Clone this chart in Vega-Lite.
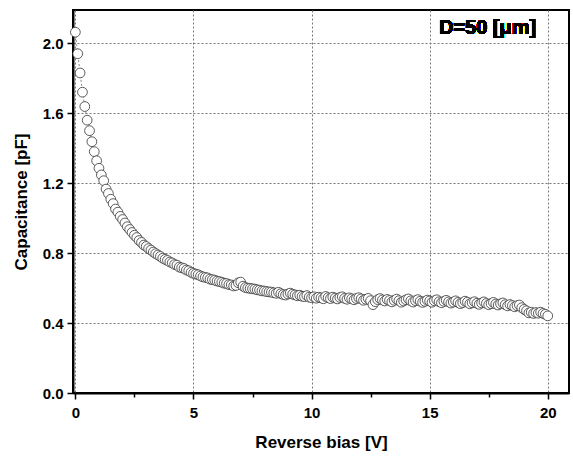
{
  "$schema": "https://vega.github.io/schema/vega-lite/v6.json",
  "autosize": "none",
  "width": 496,
  "height": 383,
  "padding": {"left": 73, "top": 10, "right": 4, "bottom": 67},
  "background": "white",
  "config": {
    "font": "Liberation Sans",
    "view": {"stroke": "black", "strokeWidth": 2},
    "axis": {
      "domainColor": "black", "domainWidth": 2, "tickColor": "black", "tickWidth": 1.5,
      "labelFont": "Liberation Sans", "labelFontWeight": "bold", "labelFontSize": 15, "labelColor": "black",
      "titleFont": "Liberation Sans", "titleFontWeight": "bold", "titleFontSize": 17, "titleColor": "black"
    }
  },
  "data": {"values": [
    {"V":0.0,"C":2.063},{"V":0.1,"C":1.940},{"V":0.2,"C":1.830},{"V":0.3,"C":1.720},{"V":0.4,"C":1.638},
    {"V":0.5,"C":1.560},{"V":0.6,"C":1.500},{"V":0.7,"C":1.437},{"V":0.8,"C":1.380},{"V":0.9,"C":1.328},
    {"V":1.0,"C":1.285},{"V":1.1,"C":1.247},{"V":1.2,"C":1.214},{"V":1.3,"C":1.166},{"V":1.4,"C":1.141},
    {"V":1.5,"C":1.108},{"V":1.6,"C":1.083},{"V":1.7,"C":1.052},{"V":1.8,"C":1.034},{"V":1.9,"C":1.010},
    {"V":2.0,"C":0.992},{"V":2.1,"C":0.972},{"V":2.2,"C":0.951},{"V":2.3,"C":0.935},{"V":2.4,"C":0.918},
    {"V":2.5,"C":0.902},{"V":2.6,"C":0.889},{"V":2.7,"C":0.872},{"V":2.8,"C":0.861},{"V":2.9,"C":0.846},
    {"V":3.0,"C":0.838},{"V":3.1,"C":0.826},{"V":3.2,"C":0.817},{"V":3.3,"C":0.806},{"V":3.4,"C":0.797},
    {"V":3.5,"C":0.789},{"V":3.6,"C":0.781},{"V":3.7,"C":0.771},{"V":3.8,"C":0.764},{"V":3.9,"C":0.758},
    {"V":4.0,"C":0.749},{"V":4.1,"C":0.744},{"V":4.2,"C":0.735},{"V":4.3,"C":0.731},{"V":4.4,"C":0.720},
    {"V":4.5,"C":0.716},{"V":4.6,"C":0.712},{"V":4.7,"C":0.703},{"V":4.8,"C":0.699},{"V":4.9,"C":0.690},
    {"V":5.0,"C":0.684},{"V":5.1,"C":0.680},{"V":5.2,"C":0.676},{"V":5.3,"C":0.669},{"V":5.4,"C":0.664},
    {"V":5.5,"C":0.661},{"V":5.6,"C":0.658},{"V":5.7,"C":0.651},{"V":5.8,"C":0.648},{"V":5.9,"C":0.645},
    {"V":6.0,"C":0.640},{"V":6.1,"C":0.637},{"V":6.2,"C":0.633},{"V":6.3,"C":0.628},{"V":6.4,"C":0.626},
    {"V":6.5,"C":0.620},{"V":6.6,"C":0.618},{"V":6.7,"C":0.612},{"V":6.8,"C":0.615},{"V":6.9,"C":0.630},
    {"V":7.0,"C":0.634},{"V":7.1,"C":0.611},{"V":7.2,"C":0.603},{"V":7.3,"C":0.600},{"V":7.4,"C":0.598},
    {"V":7.5,"C":0.596},{"V":7.6,"C":0.594},{"V":7.7,"C":0.590},{"V":7.8,"C":0.588},{"V":7.9,"C":0.584},
    {"V":8.0,"C":0.583},{"V":8.1,"C":0.580},{"V":8.2,"C":0.578},{"V":8.3,"C":0.577},{"V":8.4,"C":0.573},
    {"V":8.5,"C":0.570},{"V":8.6,"C":0.576},{"V":8.7,"C":0.568},{"V":8.8,"C":0.563},{"V":8.9,"C":0.560},
    {"V":9.0,"C":0.566},{"V":9.1,"C":0.571},{"V":9.2,"C":0.565},{"V":9.3,"C":0.561},{"V":9.4,"C":0.556},
    {"V":9.5,"C":0.559},{"V":9.6,"C":0.553},{"V":9.7,"C":0.551},{"V":9.8,"C":0.557},{"V":9.9,"C":0.548},
    {"V":10.0,"C":0.545},{"V":10.1,"C":0.550},{"V":10.2,"C":0.542},{"V":10.3,"C":0.548},{"V":10.4,"C":0.544},
    {"V":10.5,"C":0.539},{"V":10.6,"C":0.552},{"V":10.7,"C":0.545},{"V":10.8,"C":0.540},{"V":10.9,"C":0.548},
    {"V":11.0,"C":0.543},{"V":11.1,"C":0.538},{"V":11.2,"C":0.546},{"V":11.3,"C":0.550},{"V":11.4,"C":0.541},
    {"V":11.5,"C":0.536},{"V":11.6,"C":0.544},{"V":11.7,"C":0.539},{"V":11.8,"C":0.533},{"V":11.9,"C":0.540},
    {"V":12.0,"C":0.545},{"V":12.1,"C":0.538},{"V":12.2,"C":0.530},{"V":12.3,"C":0.536},{"V":12.4,"C":0.541},
    {"V":12.5,"C":0.528},{"V":12.6,"C":0.505},{"V":12.7,"C":0.522},{"V":12.8,"C":0.534},{"V":12.9,"C":0.540},
    {"V":13.0,"C":0.532},{"V":13.1,"C":0.526},{"V":13.2,"C":0.535},{"V":13.3,"C":0.529},{"V":13.4,"C":0.521},
    {"V":13.5,"C":0.530},{"V":13.6,"C":0.537},{"V":13.7,"C":0.528},{"V":13.8,"C":0.519},{"V":13.9,"C":0.526},
    {"V":14.0,"C":0.533},{"V":14.1,"C":0.538},{"V":14.2,"C":0.527},{"V":14.3,"C":0.520},{"V":14.4,"C":0.528},
    {"V":14.5,"C":0.534},{"V":14.6,"C":0.525},{"V":14.7,"C":0.518},{"V":14.8,"C":0.524},{"V":14.9,"C":0.531},
    {"V":15.0,"C":0.526},{"V":15.1,"C":0.519},{"V":15.2,"C":0.527},{"V":15.3,"C":0.533},{"V":15.4,"C":0.522},
    {"V":15.5,"C":0.516},{"V":15.6,"C":0.524},{"V":15.7,"C":0.530},{"V":15.8,"C":0.521},{"V":15.9,"C":0.514},
    {"V":16.0,"C":0.520},{"V":16.1,"C":0.527},{"V":16.2,"C":0.518},{"V":16.3,"C":0.511},{"V":16.4,"C":0.517},
    {"V":16.5,"C":0.525},{"V":16.6,"C":0.519},{"V":16.7,"C":0.510},{"V":16.8,"C":0.516},{"V":16.9,"C":0.522},
    {"V":17.0,"C":0.513},{"V":17.1,"C":0.507},{"V":17.2,"C":0.515},{"V":17.3,"C":0.521},{"V":17.4,"C":0.512},
    {"V":17.5,"C":0.505},{"V":17.6,"C":0.511},{"V":17.7,"C":0.518},{"V":17.8,"C":0.509},{"V":17.9,"C":0.503},
    {"V":18.0,"C":0.510},{"V":18.1,"C":0.515},{"V":18.2,"C":0.505},{"V":18.3,"C":0.498},{"V":18.4,"C":0.506},
    {"V":18.5,"C":0.500},{"V":18.6,"C":0.493},{"V":18.7,"C":0.499},{"V":18.8,"C":0.503},{"V":18.9,"C":0.488},
    {"V":19.0,"C":0.478},{"V":19.1,"C":0.470},{"V":19.2,"C":0.458},{"V":19.3,"C":0.462},{"V":19.4,"C":0.455},
    {"V":19.5,"C":0.460},{"V":19.6,"C":0.456},{"V":19.7,"C":0.462},{"V":19.8,"C":0.455},{"V":19.9,"C":0.450},
    {"V":20.0,"C":0.441}
  ]},
  "layer": [
    {
      "mark": {"type": "line", "color": "#555", "strokeWidth": 0.7, "strokeDash": [2, 2]},
      "encoding": {
        "x": {"field": "V", "type": "quantitative", "scale": {"domain": [-0.1, 20.9], "nice": false},
          "axis": {"orient": "bottom", "values": [0, 2.5, 5, 7.5, 10, 12.5, 15, 17.5, 20],
            "labelExpr": "datum.value % 5 == 0 ? format(datum.value, 'd') : ''",
            "grid": true, "gridColor": "#777", "gridDash": [2, 2], "gridWidth": 1,
            "gridOpacity": {"condition": {"test": "datum.value % 5 == 0", "value": 1}, "value": 0},
            "tickSize": {"condition": {"test": "datum.value % 5 == 0", "value": 6}, "value": 4},
            "labelPadding": 6, "title": "Reverse bias [V]", "titlePadding": 14}},
        "y": {"field": "C", "type": "quantitative", "scale": {"domain": [0, 2.19], "nice": false},
          "axis": {"orient": "left", "values": [0, 0.2, 0.4, 0.6, 0.8, 1.0, 1.2, 1.4, 1.6, 1.8, 2.0],
            "labelExpr": "round(datum.value * 10) % 4 == 0 ? format(datum.value, '.1f') : ''",
            "grid": true, "gridColor": "#777", "gridDash": [2, 2], "gridWidth": 1,
            "gridOpacity": {"condition": {"test": "round(datum.value * 10) % 4 == 0 && datum.value > 0", "value": 1}, "value": 0},
            "tickSize": {"condition": {"test": "round(datum.value * 10) % 4 == 0", "value": 6}, "value": 4},
            "labelPadding": 4, "title": "Capacitance [pF]", "titlePadding": 12}}
      }
    },
    {
      "mark": {"type": "point", "shape": "circle", "filled": false, "fill": "white", "fillOpacity": 1, "stroke": "#333", "strokeWidth": 0.8, "size": 95, "opacity": 1},
      "encoding": {
        "x": {"field": "V", "type": "quantitative"},
        "y": {"field": "C", "type": "quantitative"}
      }
    },
    {
      "mark": {"type": "text", "text": "D=50 [μm]", "font": "Liberation Sans", "fontWeight": "bold", "fontSize": 20, "fill": "black", "strokeWidth": 0, "align": "center", "baseline": "middle"},
      "encoding": {
        "x": {"datum": 17.45, "type": "quantitative"},
        "y": {"datum": 2.085, "type": "quantitative"}
      }
    }
  ]
}
